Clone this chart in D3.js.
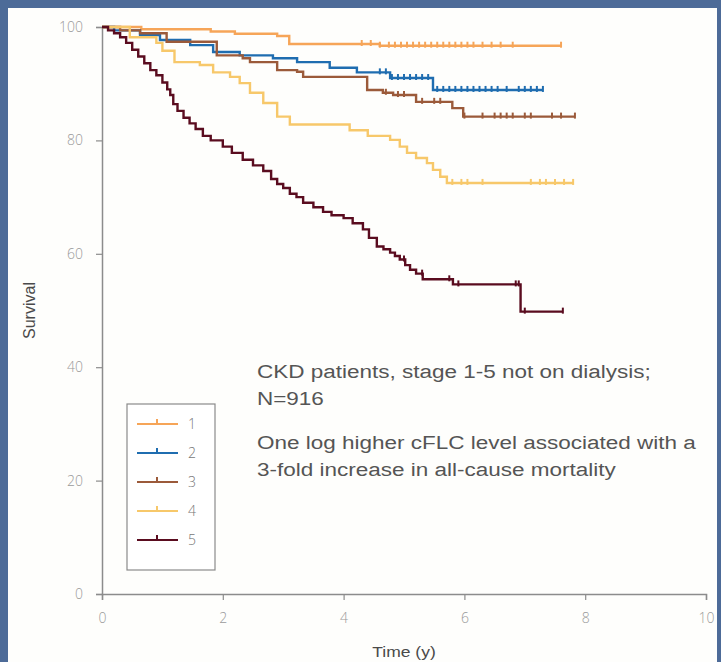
<!DOCTYPE html>
<html>
<head>
<meta charset="utf-8">
<script src="https://cdn.jsdelivr.net/npm/d3@7"></script>
<style>
  html, body { margin: 0; padding: 0; background: #4d6b98; }
  svg { display: block; }
</style>
</head>
<body>
<svg id="chart" width="721" height="662"></svg>
<script>
// Kaplan-Meier survival by cFLC group (steps: time in years, survival %)
const groups = ["1", "2", "3", "4", "5"];
const colors = ["#f6a558", "#1f6db0", "#9b5a3a", "#f7c86a", "#5a0c1f"];

const g1Time = [0, 0.65, 1.8, 2.2, 2.9, 3.1, 4.6, 7.6];
const g1Surv = [100, 99.6, 99.2, 98.8, 98.4, 97.0, 96.7, 96.7];
const g1Cens = [4.3, 4.45, 4.6, 4.75, 4.85, 4.95, 5.05, 5.15, 5.25, 5.35, 5.45, 5.55, 5.65, 5.75, 5.85, 5.95, 6.05, 6.15, 6.3, 6.45, 6.6, 6.8, 7.6];

const g2Time = [0, 0.2, 0.63, 0.96, 1.46, 1.84, 2.28, 2.83, 3.23, 3.77, 4.22, 4.77, 5.48, 7.3];
const g2Surv = [100, 99.4, 98.6, 97.7, 96.8, 95.6, 95.0, 94.5, 93.8, 92.8, 92.0, 91.0, 88.9, 88.9];
const g2Cens = [4.6, 4.7, 4.8, 4.9, 5.0, 5.1, 5.2, 5.3, 5.4, 5.55, 5.65, 5.75, 5.85, 5.95, 6.05, 6.15, 6.25, 6.35, 6.45, 6.55, 6.7, 6.9, 7.0, 7.1, 7.2, 7.3];

const g3Time = [0, 0.3, 0.63, 1.07, 1.9, 2.33, 2.45, 2.9, 3.23, 3.33, 4.39, 4.65, 4.82, 5.2, 5.8, 5.98, 7.83];
const g3Surv = [100, 99.4, 98.9, 97.4, 95.0, 94.5, 93.8, 92.4, 92.1, 91.2, 88.9, 88.4, 88.0, 86.8, 85.7, 84.2, 84.2];
const g3Cens = [4.7, 4.9, 5.0, 5.3, 5.5, 5.6, 6.0, 6.3, 6.5, 6.6, 6.7, 6.8, 7.0, 7.1, 7.45, 7.6, 7.83];

const g4Time = [0, 0.46, 0.9, 1.0, 1.2, 1.62, 1.84, 2.12, 2.28, 2.45, 2.67, 2.9, 3.11, 4.1, 4.4, 4.77, 4.93, 5.05, 5.2, 5.38, 5.48, 5.6, 5.71, 7.8];
const g4Surv = [100, 98.2, 97.2, 95.8, 93.8, 93.3, 92.0, 91.2, 90.1, 88.4, 86.6, 84.2, 82.8, 81.8, 80.8, 80.1, 78.9, 77.8, 76.9, 76.0, 74.8, 73.6, 72.5, 72.5];
const g4Cens = [5.8, 5.95, 6.05, 6.3, 7.1, 7.25, 7.35, 7.5, 7.65, 7.8];

const g5Time = [0, 0.1, 0.2, 0.3, 0.4, 0.5, 0.6, 0.7, 0.8, 0.9, 1.0, 1.08, 1.13, 1.18, 1.25, 1.35, 1.45, 1.55, 1.67, 1.8, 2.0, 2.15, 2.33, 2.5, 2.67, 2.8, 2.9, 3.0, 3.11, 3.22, 3.33, 3.5, 3.66, 3.8, 4.0, 4.15, 4.32, 4.42, 4.55, 4.66, 4.77, 4.85, 4.93, 5.02, 5.1, 5.2, 5.31, 5.81, 6.93, 7.63];
const g5Surv = [100, 99.4, 98.9, 98.2, 97.2, 96.0, 94.8, 93.6, 92.4, 91.5, 90.2, 89.0, 88.0, 86.4, 85.2, 84.0, 83.0, 82.0, 80.8, 80.0, 78.9, 77.8, 76.6, 75.6, 74.6, 73.2, 72.3, 71.6, 70.6, 70.0, 69.0, 68.2, 67.4, 66.8, 66.3, 65.4, 64.3, 62.8, 61.3, 60.8, 60.2, 59.6, 59.0, 58.0, 57.2, 56.5, 55.5, 54.6, 49.8, 49.8];
const g5Cens = [5.0, 5.3, 5.75, 5.9, 6.85, 6.9, 7.0, 7.63];

const xTicks = [0, 2, 4, 6, 8, 10];
const yTicks = [0, 20, 40, 60, 80, 100];

const noteLines = [
  "CKD patients, stage 1-5 not on dialysis;",
  "N=916",
  "One log higher cFLC level associated with a",
  "3-fold increase in all-cause mortality"
];
const noteBaselines = [378, 405, 449, 476];

const series = [
  { time: g1Time, surv: g1Surv, cens: g1Cens },
  { time: g2Time, surv: g2Surv, cens: g2Cens },
  { time: g3Time, surv: g3Surv, cens: g3Cens },
  { time: g4Time, surv: g4Surv, cens: g4Cens },
  { time: g5Time, surv: g5Surv, cens: g5Cens }
];

const svg = d3.select("#chart");

// white panel inside the blue frame
svg.append("rect")
  .attr("x", 8).attr("y", 8).attr("width", 709).attr("height", 662)
  .attr("fill", "#fefefc");

const x = d3.scaleLinear().domain([0, 10]).range([102, 706]);
const y = d3.scaleLinear().domain([0, 100]).range([594, 27]);

const axisColor = "#8c8c8c";
const tickFont = "'Open Sans', 'DejaVu Sans', sans-serif";
const textFont = "'Liberation Sans', Arial, sans-serif";

// y axis
const yAxis = svg.append("g")
  .attr("transform", `translate(${x(0)},0)`)
  .call(d3.axisLeft(y).tickValues(yTicks).tickSize(6).tickPadding(13));
// x axis
const xAxis = svg.append("g")
  .attr("transform", `translate(0,${y(0)})`)
  .call(d3.axisBottom(x).tickValues(xTicks).tickSize(6).tickPadding(13));

[yAxis, xAxis].forEach(ax => {
  ax.select(".domain").attr("stroke", axisColor).attr("stroke-width", 1.5);
  ax.selectAll(".tick line").attr("stroke", axisColor).attr("stroke-width", 1.2);
  ax.selectAll(".tick text")
    .attr("fill", "#9a9a9a")
    .style("font-family", tickFont)
    .style("font-weight", 300)
    .style("font-size", "14px");
});

// axis titles
svg.append("text")
  .attr("transform", `translate(35,${y(50)}) rotate(-90)`)
  .attr("text-anchor", "middle")
  .attr("fill", "#4a4a4a")
  .style("font-family", textFont)
  .style("font-size", "16px")
  .text("Survival");

svg.append("text")
  .attr("transform", `translate(${x(5)},657) scale(1.25,1)`)
  .attr("text-anchor", "middle")
  .attr("fill", "#4a4a4a")
  .style("font-family", textFont)
  .style("font-size", "14px")
  .text("Time (y)");

// survival curves
const line = d3.line()
  .x(d => x(d[0]))
  .y(d => y(d[1]))
  .curve(d3.curveStepAfter);

function levelAt(s, t) {
  let v = s.surv[0];
  for (let i = 0; i < s.time.length; i++) {
    if (s.time[i] <= t) v = s.surv[i];
  }
  return v;
}

series.forEach((s, i) => {
  const pts = s.time.map((t, k) => [t, s.surv[k]]);
  const g = svg.append("g").attr("class", "curve-" + groups[i]);
  g.append("path")
    .attr("d", line(pts))
    .attr("fill", "none")
    .attr("stroke", colors[i])
    .attr("stroke-width", 2.4);
  g.selectAll("line.cens")
    .data(s.cens)
    .join("line")
    .attr("class", "cens")
    .attr("x1", d => x(d)).attr("x2", d => x(d))
    .attr("y1", d => y(levelAt(s, d)) - 4)
    .attr("y2", d => y(levelAt(s, d)) + 2)
    .attr("stroke", colors[i])
    .attr("stroke-width", 2);
});

// legend
const legend = svg.append("g").attr("transform", "translate(127,404)");
legend.append("rect")
  .attr("width", 88).attr("height", 166)
  .attr("fill", "#fff")
  .attr("stroke", "#8a8a8a")
  .attr("stroke-width", 1.2);
groups.forEach((name, i) => {
  const ly = 20 + i * 29;
  legend.append("line")
    .attr("x1", 10).attr("x2", 51).attr("y1", ly).attr("y2", ly)
    .attr("stroke", colors[i]).attr("stroke-width", 2);
  legend.append("line")
    .attr("x1", 30).attr("x2", 30).attr("y1", ly - 5).attr("y2", ly + 1)
    .attr("stroke", colors[i]).attr("stroke-width", 2);
  legend.append("text")
    .attr("x", 61).attr("y", ly + 5)
    .attr("fill", "#777")
    .style("font-family", tickFont)
    .style("font-weight", 300)
    .style("font-size", "14px")
    .text(name);
});

// annotation, set slightly wide
const note = svg.append("g").attr("transform", "translate(257,0) scale(1.25,1)");
noteLines.forEach((t, i) => {
  note.append("text")
    .attr("x", 0)
    .attr("y", noteBaselines[i])
    .attr("fill", "#555")
    .style("font-family", textFont)
    .style("font-size", "18px")
    .text(t);
});
</script>
</body>
</html>
